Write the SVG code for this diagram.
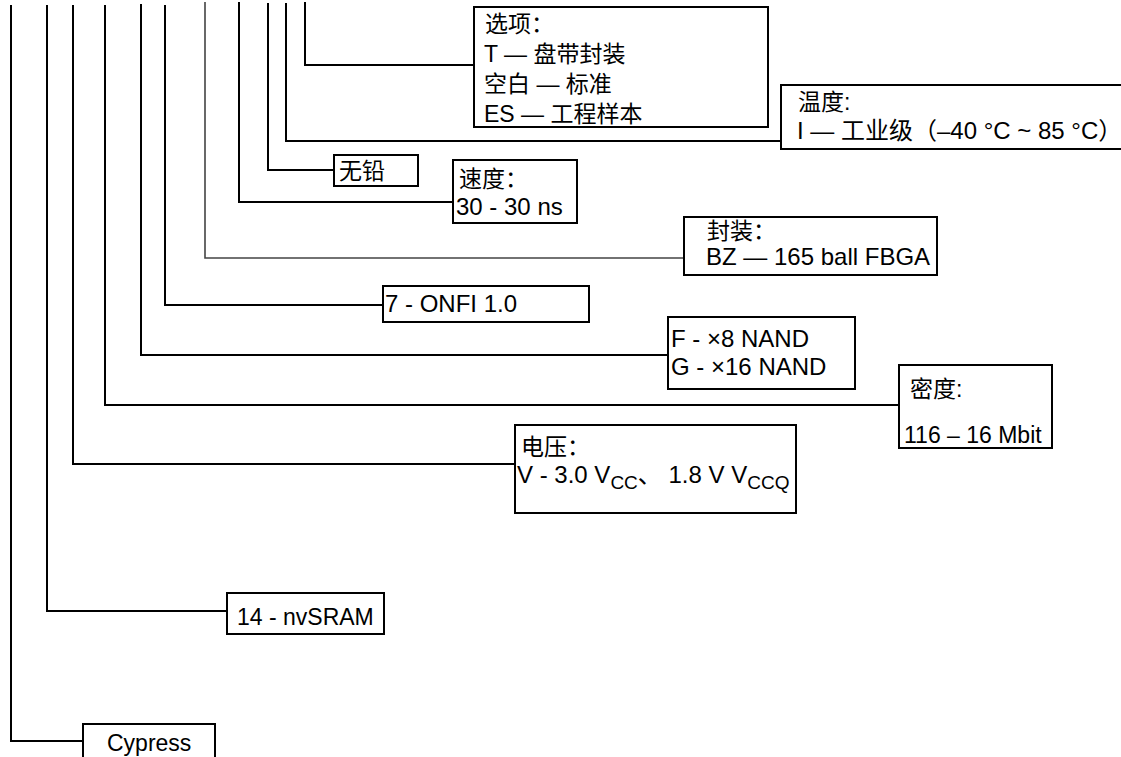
<svg xmlns="http://www.w3.org/2000/svg" width="1121" height="757" viewBox="0 0 1121 757">
<style>
.bx{fill:#fff;stroke:#000;stroke-width:2}
.ln{fill:none;stroke:#000;stroke-width:2}
text{font-family:"Liberation Sans","Noto Sans CJK SC",sans-serif;font-size:24px;fill:#000}
.sm{font-size:23px}
.sub{font-size:19px}
</style>
<rect width="1121" height="757" fill="#fff"/>
<g id="connectors">
<polyline class="ln" points="11,5 11,741 83,741"/>
<polyline class="ln" points="47,5 47,611 227,611"/>
<polyline class="ln" points="73,5 73,464 515,464"/>
<polyline class="ln" points="105,5 105,405 899,405"/>
<polyline class="ln" points="141,4 141,355 668,355"/>
<polyline class="ln" points="165,5 165,305 383,305"/>
<polyline class="ln" points="205,2 205,258 684,258" style="stroke:#444;stroke-width:1.6"/>
<polyline class="ln" points="239,2 239,202 453,202"/>
<polyline class="ln" points="268,3 268,170 334,170"/>
<polyline class="ln" points="286,3 286,141 781,141"/>
<polyline class="ln" points="305,2 305,65 474,65"/>
</g>
<g id="node-options">
<rect class="bx" x="474" y="7" width="294" height="120"/>
<text class="sm" x="485" y="32">选项：</text>
<text class="sm" x="484" y="62">T — 盘带封装</text>
<text class="sm" x="484" y="92">空白 — 标准</text>
<text class="sm" x="484" y="122">ES — 工程样本</text>
</g>
<g id="node-temp">
<rect class="bx" x="781" y="85" width="345" height="64"/>
<text class="sm" x="798" y="110">温度:</text>
<text x="797" y="139">I — 工业级（–40 °C ~ 85 °C）</text>
</g>
<g id="node-pbfree">
<rect class="bx" x="334" y="155" width="84" height="31"/>
<text class="sm" x="339" y="179">无铅</text>
</g>
<g id="node-speed">
<rect class="bx" x="453" y="160" width="124" height="63"/>
<text class="sm" x="459" y="187">速度：</text>
<text x="456" y="215">30 - 30 ns</text>
</g>
<g id="node-package">
<rect class="bx" x="684" y="217" width="253" height="58"/>
<text class="sm" x="707" y="239">封装：</text>
<text x="706" y="265">BZ — 165 ball FBGA</text>
</g>
<g id="node-onfi">
<rect class="bx" x="383" y="286" width="206" height="36"/>
<text x="385" y="312">7 - ONFI 1.0</text>
</g>
<g id="node-nand">
<rect class="bx" x="668" y="317" width="187" height="72"/>
<text x="671" y="347">F - ×8 NAND</text>
<text x="671" y="375">G - ×16 NAND</text>
</g>
<g id="node-density">
<rect class="bx" x="899" y="365" width="153" height="83"/>
<text class="sm" x="910" y="397">密度:</text>
<text class="sm" x="904" y="443">116 – 16 Mbit</text>
</g>
<g id="node-voltage">
<rect class="bx" x="515" y="425" width="281" height="88"/>
<text class="sm" x="521" y="455">电压：</text>
<text x="517" y="483">V - 3.0 V<tspan class="sub" dy="6">CC</tspan><tspan dy="-6">、 1.8 V V</tspan><tspan class="sub" dy="6">CCQ</tspan></text>
</g>
<g id="node-nvsram">
<rect class="bx" x="227" y="593" width="157" height="41"/>
<text class="sm" x="237" y="625">14 - nvSRAM</text>
</g>
<g id="node-cypress">
<rect class="bx" x="83" y="724" width="132" height="45"/>
<text class="sm" x="107" y="751">Cypress</text>
</g>
</svg>
